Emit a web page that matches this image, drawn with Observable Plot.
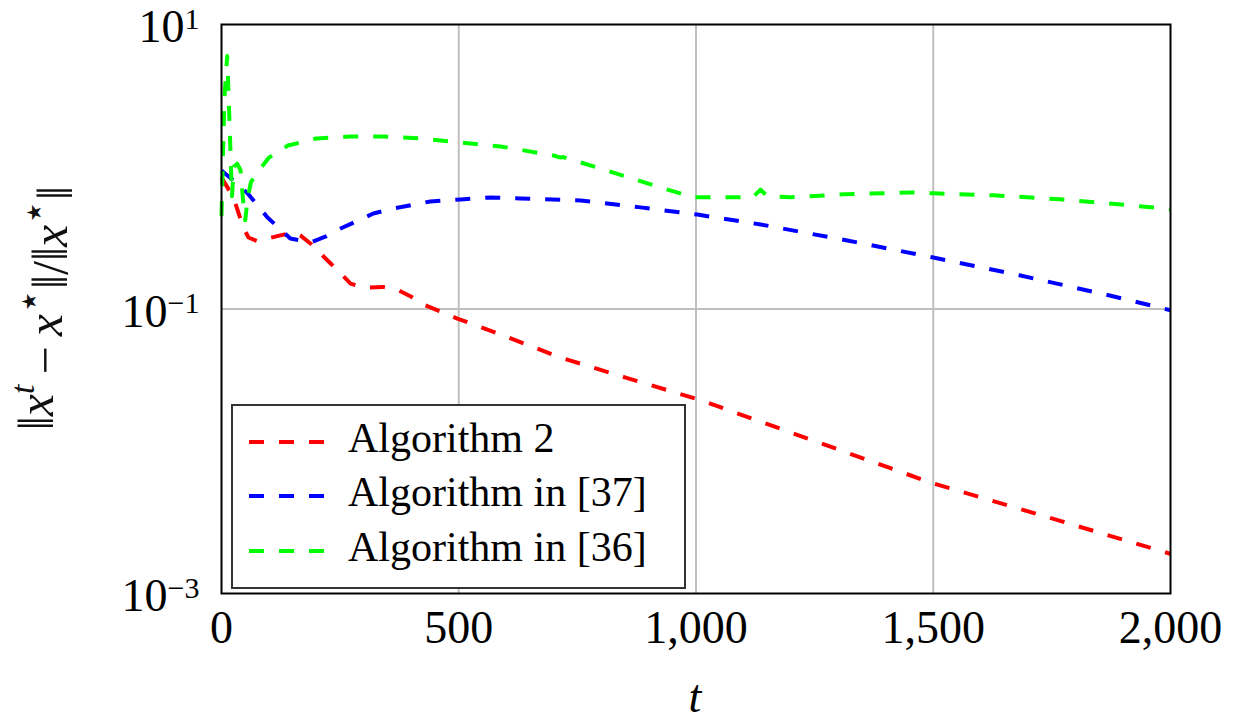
<!DOCTYPE html>
<html>
<head>
<meta charset="utf-8">
<script src="https://cdn.jsdelivr.net/npm/d3@7"></script>
<script src="https://cdn.jsdelivr.net/npm/@observablehq/plot@0.6"></script>
<style>
  html, body { margin: 0; padding: 0; background: #fff; }
  #chart { width: 1236px; height: 721px; }
</style>
</head>
<body>
<div id="chart"></div>
<script>
// ---- data ----
const seriesNames = ["Algorithm 2", "Algorithm in [37]", "Algorithm in [36]"];
const seriesColors = ["#ff0000", "#0000ff", "#00ff00"];

const tRed = [0, 10, 25, 46, 57, 75, 97, 124, 152, 166, 190, 209, 230, 251, 272, 300, 340, 370, 400, 430, 497, 594, 714, 850, 1009, 1250, 1494, 1750, 2000];
const vRed = [0.84, 0.74, 0.61, 0.374, 0.318, 0.30, 0.313, 0.329, 0.345, 0.329, 0.284, 0.245, 0.209, 0.178, 0.151, 0.141, 0.143, 0.137, 0.122, 0.106, 0.0857, 0.0651, 0.0456, 0.0331, 0.0229, 0.0118, 0.00603, 0.00337, 0.0019];

const tBlue = [0, 25, 55, 97, 145, 188, 220, 251, 320, 363, 440, 504, 567, 630, 757, 883, 1003, 1136, 1319, 1500, 1684, 1874, 2000];
const vBlue = [0.94, 0.80, 0.65, 0.44, 0.313, 0.294, 0.324, 0.368, 0.469, 0.509, 0.570, 0.589, 0.608, 0.598, 0.579, 0.518, 0.461, 0.393, 0.303, 0.230, 0.172, 0.124, 0.098];

const tGreen = [0, 6, 12, 17, 22, 26, 33, 40, 45, 50, 55, 62, 80, 100, 140, 200, 270, 340, 420, 504, 588, 700, 714, 720, 826, 940, 995, 1073, 1120, 1136, 1150, 1199, 1311, 1452, 1500, 1627, 1768, 1958, 2000];
const vGreen = [0.45, 3.0, 6.0, 2.0, 0.62, 1.0, 1.05, 0.95, 0.6, 0.42, 0.6, 0.78, 0.95, 1.16, 1.41, 1.58, 1.63, 1.63, 1.58, 1.48, 1.39, 1.20, 1.16, 1.17, 0.91, 0.69, 0.61, 0.61, 0.61, 0.69, 0.62, 0.61, 0.64, 0.66, 0.65, 0.63, 0.59, 0.52, 0.50];

const xTicks = [0, 500, 1000, 1500, 2000];
const xGrid = [500, 1000, 1500];
const yTicks = [10, 0.1, 0.001];
const yGrid = [0.1];

// ---- build table ----
const rows = [];
[[tRed, vRed], [tBlue, vBlue], [tGreen, vGreen]].forEach(([ts, vs], i) => {
  ts.forEach((t, j) => rows.push({ t, v: vs[j], s: seriesNames[i] }));
});

const FONT = "'Liberation Serif', 'DejaVu Serif', serif";
const expStr = d => String(Math.round(Math.log10(d))).replace("-", "\u2212");

const chart = Plot.plot({
  width: 1236,
  height: 721,
  marginLeft: 221,
  marginRight: 66,
  marginTop: 24,
  marginBottom: 128,
  style: { fontFamily: FONT, fontSize: "46px", color: "#000", background: "#fff", overflow: "visible" },
  x: { domain: [0, 2000] },
  y: { type: "log", domain: [0.001, 10] },
  color: { domain: seriesNames, range: seriesColors },
  marks: [
    Plot.gridX(xGrid, { stroke: "#bfbfbf", strokeOpacity: 1, strokeWidth: 2 }),
    Plot.gridY(yGrid, { stroke: "#bfbfbf", strokeOpacity: 1, strokeWidth: 2 }),
    Plot.axisX(xTicks, { tickSize: 0, tickPadding: 17, tickFormat: d3.format(","), label: null, fontSize: 46 }),
    Plot.axisY(yTicks, { tickSize: 0, tickPadding: 22, tickFormat: expStr, label: null, fontSize: 46, dy: 3 }),
    Plot.line(rows, {
      x: "t", y: "v", z: "s", stroke: "s",
      strokeWidth: 4, strokeDasharray: "15,15", strokeLinecap: "butt", strokeLinejoin: "round"
    }),
    Plot.frame({ stroke: "#000", strokeWidth: 2 })
  ]
});

document.getElementById("chart").appendChild(chart);

const svg = d3.select(chart);

// y tick labels as 10^k
svg.selectAll('g[aria-label="y-axis tick label"] text').each(function () {
  const e = this.textContent;
  const s = d3.select(this);
  s.text(null);
  s.append("tspan").text("10");
  s.append("tspan").attr("dy", "-0.45em").attr("font-size", "30px").text(e);
});

// x axis label
svg.append("text")
  .attr("x", 695).attr("y", 712)
  .attr("text-anchor", "middle")
  .attr("font-family", FONT).attr("font-size", 46).attr("font-style", "italic")
  .attr("fill", "#000")
  .text("t");

// y axis label
const yl = svg.append("text")
  .attr("transform", "translate(53,308) rotate(-90)")
  .attr("text-anchor", "middle")
  .attr("font-family", FONT).attr("font-size", 50)
  .attr("fill", "#111");
yl.append("tspan").text("\u2016");
yl.append("tspan").attr("font-style", "italic").text("x");
yl.append("tspan").attr("dy", "-0.55em").attr("font-size", "34px").attr("font-style", "italic").text("t");
yl.append("tspan").attr("dy", "0.55em").text("\u2009\u2212\u2009");
yl.append("tspan").attr("font-style", "italic").text("x");
yl.append("tspan").attr("dy", "-0.5em").attr("font-size", "40px").text("\u22C6");
yl.append("tspan").attr("dy", "0.5em").text("\u2016/\u2016");
yl.append("tspan").attr("font-style", "italic").text("x");
yl.append("tspan").attr("dy", "-0.5em").attr("font-size", "40px").text("\u22C6");
yl.append("tspan").attr("dy", "0.5em").text("\u2016");

// legend
const lg = svg.append("g").attr("aria-label", "legend");
lg.append("rect")
  .attr("x", 232).attr("y", 405).attr("width", 453).attr("height", 183)
  .attr("fill", "#fff").attr("stroke", "#333").attr("stroke-width", 2);
const rowY = [442, 496, 551];
seriesNames.forEach((name, i) => {
  lg.append("line")
    .attr("x1", 249).attr("x2", 324).attr("y1", rowY[i]).attr("y2", rowY[i])
    .attr("stroke", seriesColors[i]).attr("stroke-width", 4).attr("stroke-dasharray", "15,15");
  lg.append("text")
    .attr("x", 348).attr("y", rowY[i] + 10)
    .attr("text-anchor", "start")
    .attr("font-family", FONT).attr("font-size", 42).attr("fill", "#000")
    .text(name);
});
</script>
</body>
</html>
